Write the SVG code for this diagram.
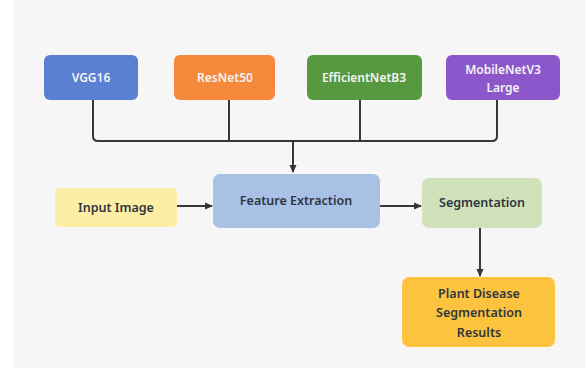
<svg xmlns="http://www.w3.org/2000/svg" width="585" height="368" viewBox="0 0 585 368">
<defs>
<marker id="ah" markerWidth="8" markerHeight="8" refX="7" refY="4" orient="auto" markerUnits="userSpaceOnUse">
<path d="M0,0.5 L8,4 L0,7.5 Z" fill="#333"/>
</marker>
<style>
.box{stroke:none}
.lt{font-family:"Noto Sans","Open Sans",sans-serif;font-size:12px;fill:#f4f4f4;text-anchor:middle;font-weight:600}
.dt{font-family:"Noto Sans","Open Sans",sans-serif;font-size:12.5px;fill:#2f3640;text-anchor:middle;font-weight:600}
.ln{fill:none;stroke:#383838;stroke-width:2}
</style>
</defs>
<rect x="0" y="0" width="585" height="368" fill="#ffffff"/>
<rect x="14" y="0" width="571" height="368" fill="#f6f6f6"/>
<g id="connectors">
<path class="ln" d="M93,100 V136 Q93,141 98,141 H492 Q497,141 497,136 V100"/>
<path class="ln" d="M229,100 V141"/>
<path class="ln" d="M360,100 V141"/>
<path class="ln" d="M293,141 V172" marker-end="url(#ah)"/>
<path class="ln" d="M177,206 H212" marker-end="url(#ah)"/>
<path class="ln" d="M380,206 H421" marker-end="url(#ah)"/>
<path class="ln" d="M480,228 V276" marker-end="url(#ah)"/>
</g>
<g id="vgg16"><rect class="box" x="44" y="55" width="94" height="45" rx="6" fill="#5a7fd3"/><text class="lt" x="91" y="82">VGG16</text></g>
<g id="resnet50"><rect class="box" x="174" y="55" width="101" height="45" rx="6" fill="#f5883a"/><text class="lt" x="225" y="82">ResNet50</text></g>
<g id="efficientnetb3"><rect class="box" x="307" y="55" width="115" height="45" rx="6" fill="#56993f"/><text class="lt" x="364" y="82" fill="#e8f5e0">EfficientNetB3</text></g>
<g id="mobilenetv3"><rect class="box" x="446" y="55" width="114" height="45" rx="6" fill="#8c57cb"/><text class="lt" x="503" y="74">MobileNetV3</text><text class="lt" x="503" y="92">Large</text></g>
<g id="input-image"><rect class="box" x="55" y="188" width="122" height="39" rx="5" fill="#fdeea5"/><text class="dt" x="116" y="212">Input Image</text></g>
<g id="feature-extraction"><rect class="box" x="213" y="174" width="167" height="54" rx="7" fill="#a9c1e4"/><text class="dt" x="296" y="205">Feature Extraction</text></g>
<g id="segmentation"><rect class="box" x="422" y="178" width="120" height="50" rx="7" fill="#cfe2b9"/><text class="dt" x="482" y="207">Segmentation</text></g>
<g id="results"><rect class="box" x="402" y="277" width="153" height="70" rx="7" fill="#fcc33f"/><text class="dt" x="479" y="298">Plant Disease</text><text class="dt" x="479" y="317">Segmentation</text><text class="dt" x="479" y="337">Results</text></g>
</svg>
